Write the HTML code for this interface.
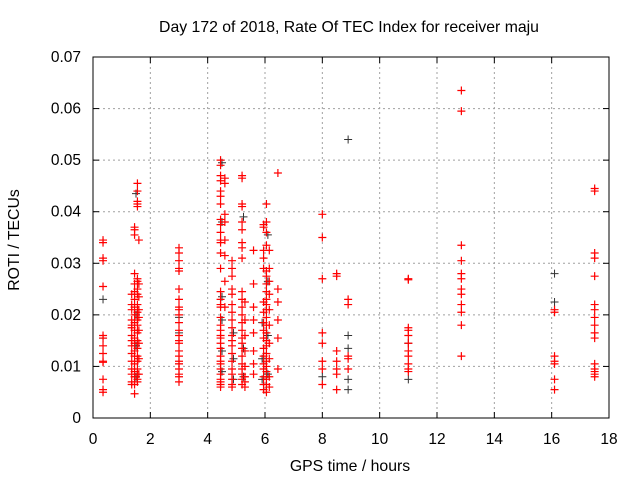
<!DOCTYPE html>
<html><head><meta charset="utf-8"><style>
body{margin:0;background:#fff}
svg{display:block;font-family:"Liberation Sans",sans-serif}
</style></head><body>
<svg id="chart" width="640" height="480">
<rect width="640" height="480" fill="#fff"/>
<g id="grid"></g>
<g id="axes"></g>
<g id="marks"></g>
<text x="349" y="32" text-anchor="middle" font-size="15.8">Day 172 of 2018, Rate Of TEC Index for receiver maju</text>
<text x="350" y="471" text-anchor="middle" font-size="15.8">GPS time / hours</text>
<text transform="translate(19,240) rotate(-90)" text-anchor="middle" font-size="15.8">ROTI / TECUs</text>
</svg>
<script>
const xTicks=[0,2,4,6,8,10,12,14,16,18];
const yTicks=[0,0.01,0.02,0.03,0.04,0.05,0.06,0.07];
const yTickLabels=["0","0.01","0.02","0.03","0.04","0.05","0.06","0.07"];
const redHours=[0.35,1.35,1.45,1.55,1.6,3.0,4.45,4.6,4.85,5.2,5.3,5.6,5.95,6.05,6.15,6.45,8.0,8.5,8.9,11.0,12.85,16.1,17.5];
const redValues=[
[0.0345,0.034,0.031,0.0305,0.0255,0.016,0.0155,0.014,0.0125,0.011,0.0108,0.0075,0.0055,0.005],
[0.024,0.022,0.021,0.019,0.018,0.0175,0.016,0.015,0.014,0.0125,0.011,0.0095,0.0085,0.007,0.0065],
[0.0365,0.037,0.0355,0.028,0.026,0.0245,0.023,0.0215,0.02,0.0185,0.017,0.0155,0.0145,0.013,0.012,0.0105,0.009,0.008,0.0065,0.0047],
[0.0455,0.044,0.042,0.041,0.0415,0.027,0.0265,0.025,0.024,0.022,0.0205,0.019,0.018,0.0165,0.015,0.0135,0.012,0.011,0.0095,0.0085,0.0075,0.007],
[0.0345,0.026,0.0235,0.021,0.0195,0.017,0.0145,0.0115,0.0085],
[0.033,0.032,0.0305,0.029,0.0285,0.025,0.023,0.0215,0.021,0.02,0.0185,0.017,0.016,0.015,0.0145,0.013,0.012,0.011,0.0105,0.0095,0.0085,0.008,0.007],
[0.050,0.049,0.047,0.046,0.044,0.043,0.0415,0.0385,0.0375,0.036,0.0345,0.034,0.032,0.029,0.0245,0.023,0.022,0.0215,0.0195,0.018,0.017,0.016,0.0155,0.0145,0.0135,0.012,0.011,0.0105,0.0095,0.0085,0.0075,0.007,0.0065,0.006],
[0.0465,0.0455,0.0395,0.038,0.0345,0.0315,0.0265,0.0215],
[0.0305,0.029,0.0275,0.025,0.024,0.022,0.0205,0.019,0.0175,0.016,0.015,0.014,0.0125,0.011,0.0095,0.0085,0.0075,0.0065,0.006],
[0.047,0.0465,0.041,0.0415,0.038,0.0365,0.034,0.033,0.031,0.0245,0.023,0.0215,0.02,0.0185,0.017,0.0155,0.0145,0.0135,0.012,0.0105,0.0095,0.0085,0.0075,0.0065],
[0.0225,0.019,0.016,0.013,0.01,0.008,0.007,0.006],
[0.0325,0.026,0.0215,0.019,0.0165,0.013,0.0105,0.0085],
[0.0375,0.037,0.0325,0.031,0.029,0.0225,0.0205,0.0185,0.017,0.0155,0.0135,0.012,0.0105,0.0095,0.008,0.0065,0.0055],
[0.0415,0.038,0.036,0.0335,0.0285,0.0275,0.026,0.0245,0.023,0.022,0.021,0.0195,0.018,0.0165,0.015,0.014,0.0125,0.011,0.01,0.009,0.0075,0.0065,0.005],
[0.0325,0.029,0.0265,0.024,0.021,0.018,0.0145,0.0115,0.008,0.006],
[0.0475,0.025,0.0225,0.019,0.0155,0.0095],
[0.0395,0.035,0.027,0.0165,0.0145,0.011,0.0095,0.0065],
[0.028,0.0275,0.013,0.011,0.0095,0.0085,0.0055],
[0.023,0.022,0.012,0.0115,0.0095],
[0.027,0.0268,0.0175,0.017,0.016,0.0145,0.013,0.012,0.0105,0.0095,0.009],
[0.0635,0.0595,0.0335,0.0305,0.028,0.027,0.025,0.024,0.022,0.0205,0.018,0.012],
[0.021,0.0205,0.012,0.0105,0.011,0.0075,0.0055],
[0.0445,0.044,0.032,0.031,0.0275,0.022,0.021,0.0195,0.018,0.0165,0.0155,0.0105,0.0095,0.009,0.0085,0.008]
];
const blackHours=[0.35,1.5,3.0,4.5,4.9,5.25,5.9,6.1,8.0,8.9,11.0,16.1];
const blackValues=[
[0.023,0.0155],
[0.0435,0.02,0.014,0.008],
[0.0195,0.0165,0.0105],
[0.0495,0.038,0.0235,0.019,0.013,0.009],
[0.0165,0.0115,0.0075],
[0.039,0.0135,0.008],
[0.0185,0.0115,0.0075],
[0.0355,0.0265,0.016,0.0085],
[0.008],
[0.054,0.016,0.0135,0.0075,0.0055],
[0.0145,0.0075],
[0.028,0.0225]
];
const X0=93,X1=609,Y0=418,Y1=57;
const sx=h=>X0+(h-0)/(18-0)*(X1-X0);
const sy=v=>Y0-(v-0)/(0.07-0)*(Y0-Y1);
const NS="http://www.w3.org/2000/svg";
function mk(tag,attrs,parent){const e=document.createElementNS(NS,tag);for(const k in attrs)e.setAttribute(k,attrs[k]);parent.appendChild(e);return e;}
const grid=document.getElementById('grid'),axes=document.getElementById('axes'),marks=document.getElementById('marks');
xTicks.forEach((t,i)=>{const x=sx(t);
 if(i>0&&i<xTicks.length-1){const l=mk('line',{x1:x,x2:x,y1:Y1,y2:Y0,stroke:'#a0a0a0','stroke-dasharray':'2,3'},grid);}
 mk('line',{x1:x,x2:x,y1:Y0,y2:Y0-6,stroke:'#000'},axes);mk('line',{x1:x,x2:x,y1:Y1,y2:Y1+6,stroke:'#000'},axes);
 const tx=mk('text',{x:x,y:444,'text-anchor':'middle','font-size':'15.5'},axes);tx.textContent=t;
 });
yTicks.forEach((t,i)=>{const y=sy(t);
 if(i>0&&i<yTicks.length-1){const l=mk('line',{x1:X0,x2:X1,y1:y,y2:y,stroke:'#a0a0a0','stroke-dasharray':'2,3'},grid);}
 mk('line',{x1:X0,x2:X0+6,y1:y,y2:y,stroke:'#000'},axes);mk('line',{x1:X1,x2:X1-6,y1:y,y2:y,stroke:'#000'},axes);
 const tx=mk('text',{x:81,y:y+5,'text-anchor':'end','font-size':'15.5'},axes);tx.textContent=yTickLabels[i];
 });
const fr=mk('rect',{x:X0,y:Y1,width:X1-X0,height:Y0-Y1,fill:'none',stroke:'#000'},axes);

function plot(hours,vals,color,w,name){hours.forEach((h,i)=>{vals[i].forEach(v=>{const x=sx(h),y=sy(v);
 const p=mk('path',{d:`M${x-4},${y}H${x+4}M${x},${y-4}V${y+4}`,stroke:color,'stroke-width':w,fill:'none'},marks);
 });});}
plot(blackHours,blackValues,'#333','1','black-point');
plot(redHours,redValues,'#ff0000','1.2','red-point');
</script>
</body></html>
